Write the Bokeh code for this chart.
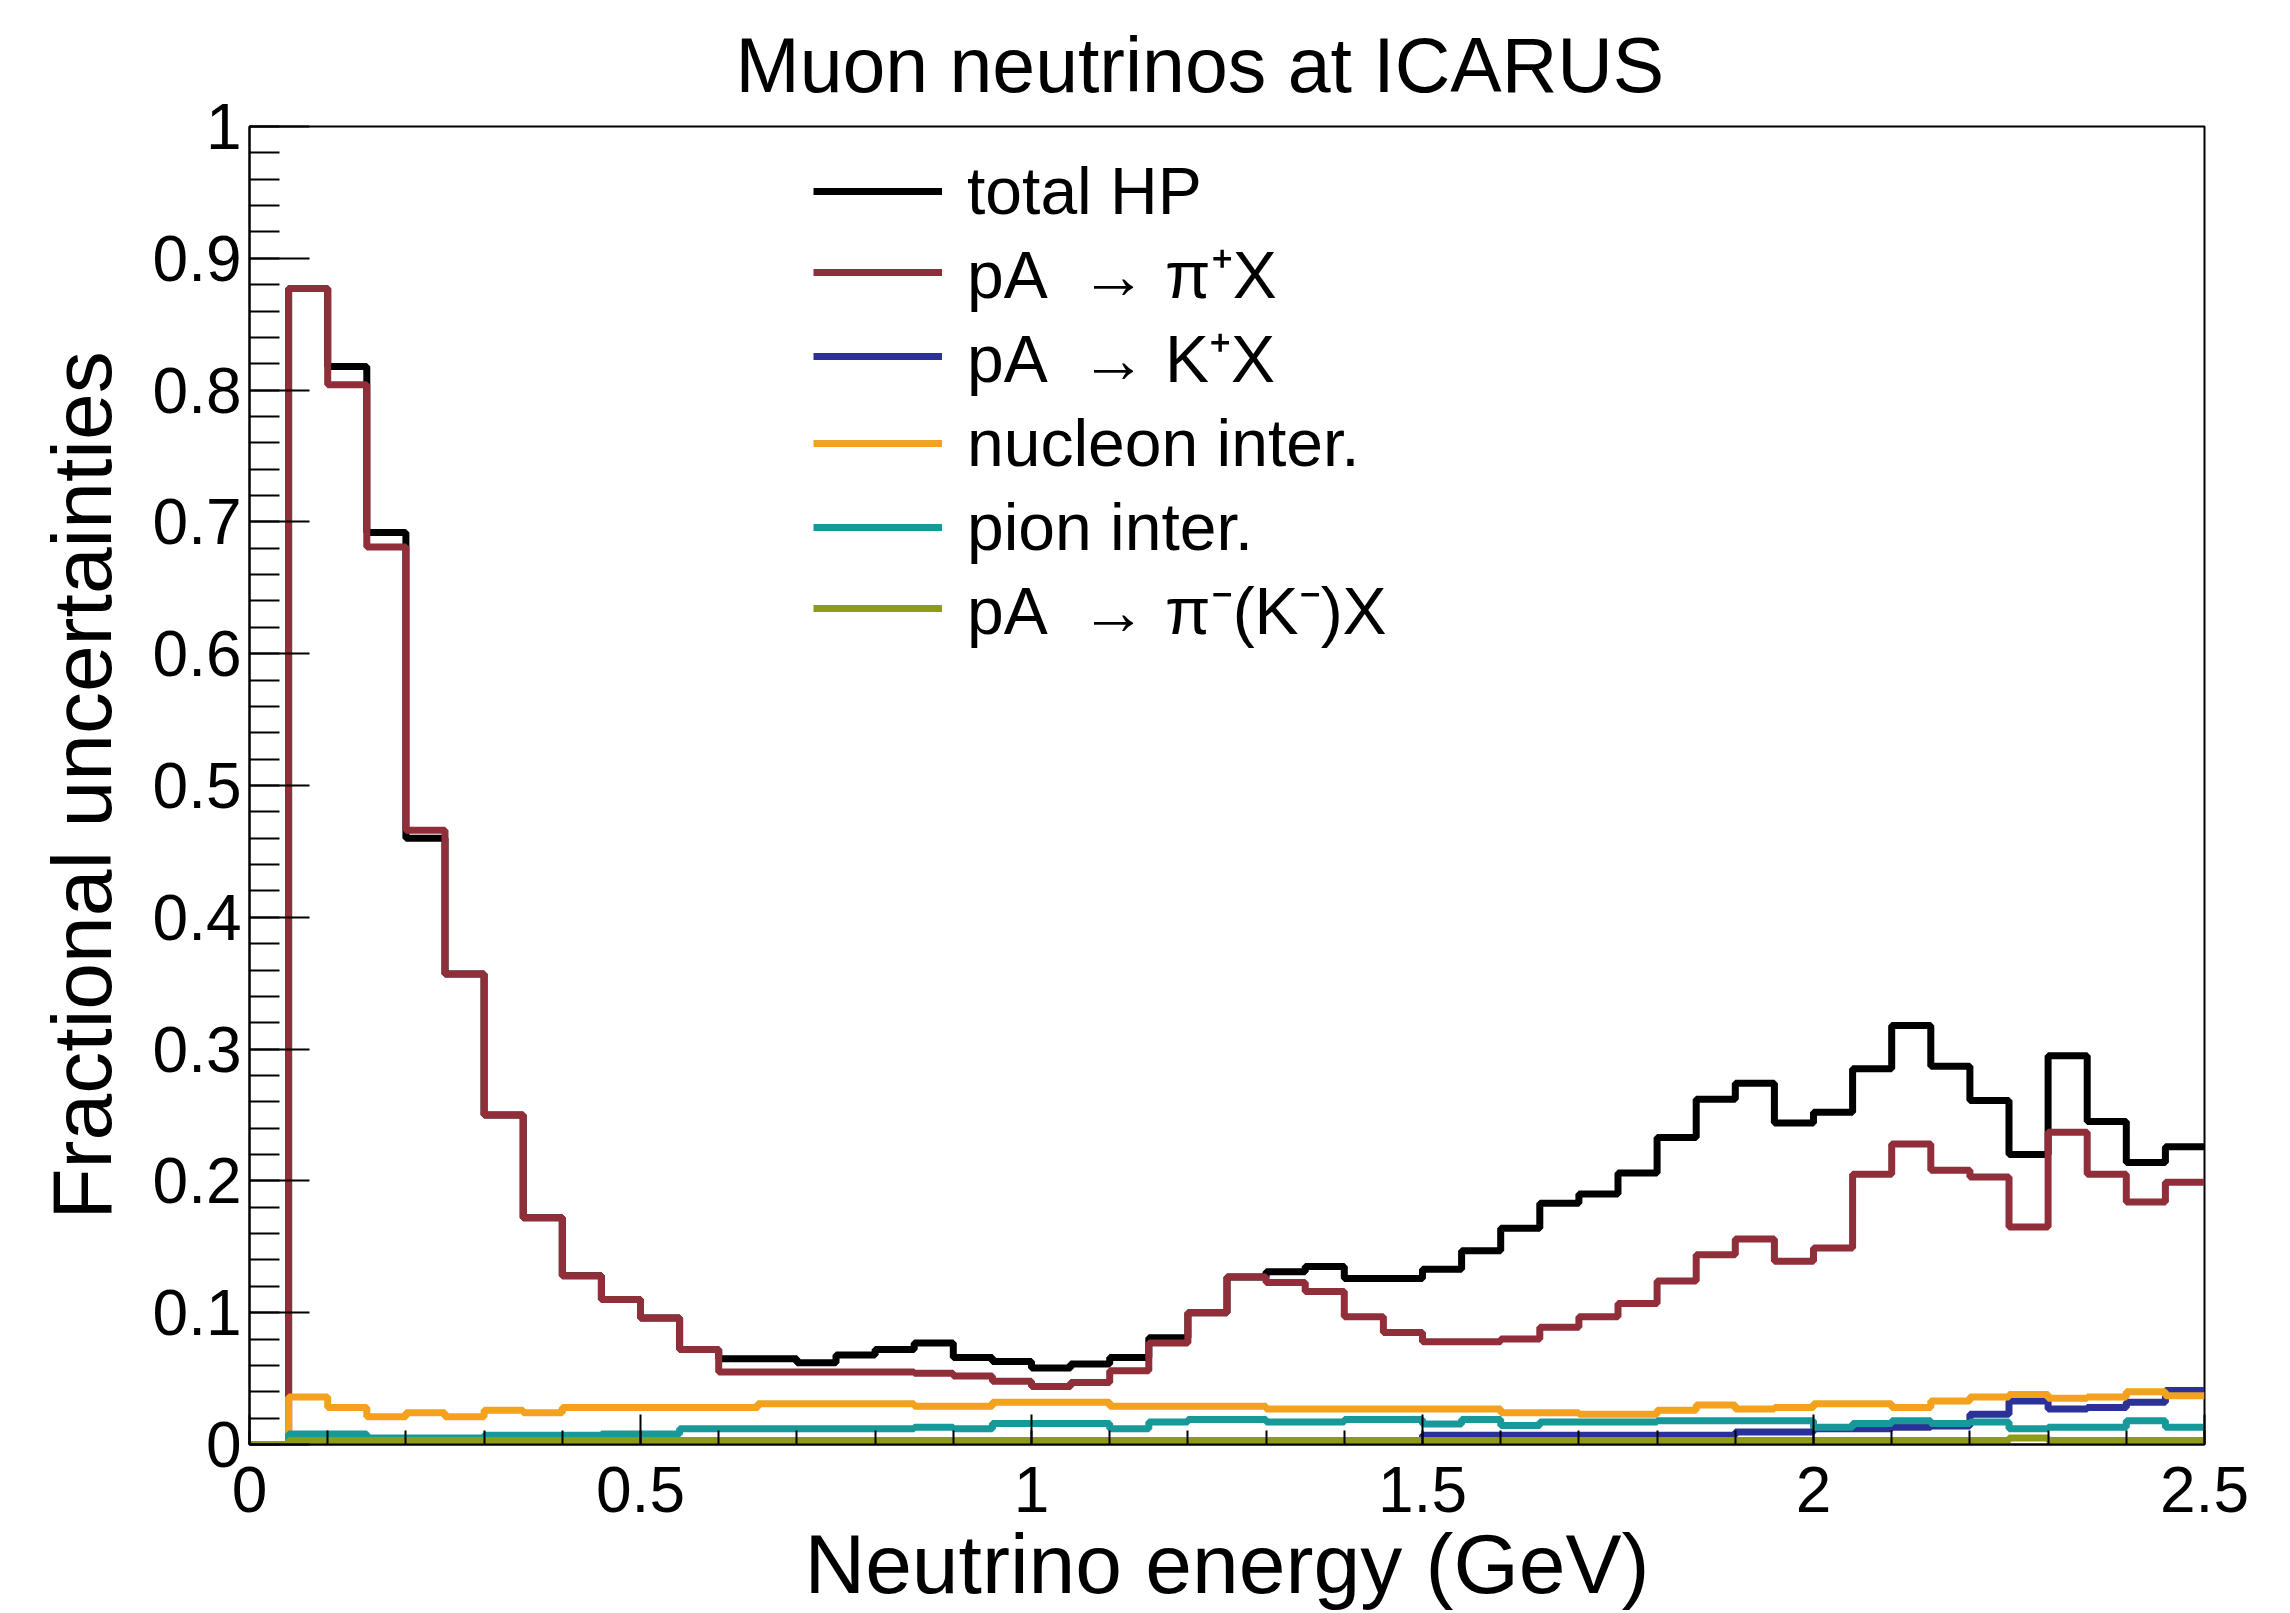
import numpy as np
from bokeh.plotting import figure
from bokeh.models import FixedTicker, Legend, LegendItem, CustomJSTickFormatter
from bokeh.embed import file_html
from bokeh.resources import INLINE

# ---- data ----
bin_edges = [0.0, 0.05, 0.1, 0.15, 0.2, 0.25, 0.3, 0.35, 0.4, 0.45, 0.5,
             0.55, 0.6, 0.65, 0.7, 0.75, 0.8, 0.85, 0.9, 0.95, 1.0,
             1.05, 1.1, 1.15, 1.2, 1.25, 1.3, 1.35, 1.4, 1.45, 1.5,
             1.55, 1.6, 1.65, 1.7, 1.75, 1.8, 1.85, 1.9, 1.95, 2.0,
             2.05, 2.1, 2.15, 2.2, 2.25, 2.3, 2.35, 2.4, 2.45, 2.5]

total_hp = [0.0, 0.877, 0.818, 0.692, 0.460, 0.357, 0.250, 0.172, 0.128, 0.110,
            0.096, 0.072, 0.065, 0.065, 0.062, 0.068, 0.072, 0.077, 0.066, 0.063,
            0.058, 0.061, 0.066, 0.081, 0.100, 0.127, 0.131, 0.135, 0.126, 0.126,
            0.133, 0.147, 0.164, 0.183, 0.190, 0.206, 0.233, 0.262, 0.274, 0.244,
            0.252, 0.285, 0.318, 0.287, 0.261, 0.220, 0.295, 0.245, 0.214, 0.226]

pa_piplus = [0.0, 0.877, 0.804, 0.681, 0.466, 0.357, 0.250, 0.172, 0.128, 0.110,
             0.096, 0.072, 0.055, 0.055, 0.055, 0.055, 0.055, 0.054, 0.052, 0.048,
             0.044, 0.047, 0.056, 0.077, 0.100, 0.127, 0.123, 0.116, 0.097, 0.085,
             0.078, 0.078, 0.080, 0.089, 0.097, 0.107, 0.124, 0.144, 0.156, 0.139,
             0.149, 0.205, 0.228, 0.208, 0.203, 0.165, 0.237, 0.205, 0.184, 0.199]

pa_kplus = [0.0, 0.002, 0.0, 0.002, 0.002, 0.002, 0.002, 0.002, 0.002, 0.002,
            0.002, 0.002, 0.002, 0.002, 0.002, 0.002, 0.002, 0.002, 0.002, 0.002,
            0.002, 0.002, 0.002, 0.002, 0.002, 0.002, 0.002, 0.002, 0.002, 0.002,
            0.007, 0.007, 0.007, 0.007, 0.007, 0.007, 0.007, 0.007, 0.0095, 0.0095,
            0.012, 0.012, 0.013, 0.014, 0.023, 0.033, 0.027, 0.028, 0.032, 0.041]

nucleon_inter = [0.0, 0.036, 0.028, 0.021, 0.024, 0.021, 0.026, 0.024, 0.028, 0.028,
                 0.028, 0.028, 0.028, 0.031, 0.031, 0.031, 0.031, 0.029, 0.029, 0.032,
                 0.032, 0.032, 0.029, 0.029, 0.029, 0.029, 0.027, 0.027, 0.027, 0.027,
                 0.027, 0.027, 0.024, 0.024, 0.023, 0.023, 0.026, 0.030, 0.027, 0.028,
                 0.031, 0.031, 0.028, 0.033, 0.036, 0.038, 0.035, 0.036, 0.040, 0.037]

pion_inter = [0.0, 0.008, 0.008, 0.005, 0.005, 0.005, 0.007, 0.007, 0.007, 0.008,
              0.008, 0.012, 0.012, 0.012, 0.012, 0.012, 0.012, 0.013, 0.012, 0.016,
              0.016, 0.016, 0.012, 0.017, 0.019, 0.019, 0.017, 0.017, 0.019, 0.019,
              0.0155, 0.019, 0.0145, 0.017, 0.017, 0.017, 0.018, 0.018, 0.018, 0.018,
              0.013, 0.016, 0.018, 0.016, 0.017, 0.012, 0.013, 0.013, 0.018, 0.013]

pa_piminus = [0.0, 0.003, 0.003, 0.003, 0.003, 0.003, 0.003, 0.003, 0.003, 0.003,
              0.003, 0.003, 0.003, 0.003, 0.003, 0.003, 0.003, 0.003, 0.003, 0.003,
              0.003, 0.003, 0.003, 0.003, 0.003, 0.003, 0.003, 0.003, 0.003, 0.003,
              0.003, 0.003, 0.003, 0.003, 0.003, 0.003, 0.003, 0.003, 0.003, 0.003,
              0.003, 0.003, 0.003, 0.003, 0.003, 0.005, 0.003, 0.003, 0.003, 0.003]

series_labels = ["total HP", "pA  \u2192 \u03c0\u207aX", "pA  \u2192 K\u207aX",
                 "nucleon inter.", "pion inter.", "pA  \u2192 \u03c0\u207b(K\u207b)X"]
series_colors = ["#000000", "#902f3a", "#2b3196", "#f4a11d", "#17999a", "#8e9b14"]

y_major = [0.0, 0.1, 0.2, 0.3, 0.4, 0.5, 0.6, 0.7, 0.8, 0.9, 1.0]
x_major = [0.0, 0.5, 1.0, 1.5, 2.0, 2.5]

title_text = "Muon neutrinos at ICARUS"

FONT = "Liberation Sans"

p = figure(width=2290, height=1613, output_backend="svg", toolbar_location=None,
           x_range=(0, 2.5), y_range=(0, 1),
           min_border_left=249, min_border_right=86,
           min_border_top=125, min_border_bottom=159,
           title=title_text)

p.background_fill_color = "white"
p.border_fill_color = "white"
p.outline_line_color = "black"
p.outline_line_width = 2
p.xgrid.visible = False
p.ygrid.visible = False

p.title.text_font = FONT
p.title.text_font_size = "77px"
p.title.text_font_style = "normal"
p.title.text_color = "black"
p.title.align = "left"
p.title.offset = 486
p.title.standoff = 38

all_series = [total_hp, pa_piplus, pa_kplus, nucleon_inter, pion_inter, pa_piminus]
renderers = []
for vals, col in zip(all_series, series_colors):
    yy = list(vals) + [vals[-1]]
    r = p.step(x=bin_edges, y=yy, mode="after", line_color=col, line_width=7)
    renderers.append(r)

fmt = CustomJSTickFormatter(code="return Number(tick.toFixed(2)).toString();")

# y axis
y_minor = [round(0.02 * i, 2) for i in range(51)]
p.yaxis.ticker = FixedTicker(ticks=y_major, minor_ticks=y_minor)
p.yaxis.formatter = fmt
p.yaxis.axis_label = "Fractional uncertainties"
p.yaxis.major_tick_in = 60
p.yaxis.major_tick_out = 0
p.yaxis.minor_tick_in = 30
p.yaxis.minor_tick_out = 0

# x axis
x_minor = [round(0.1 * i, 2) for i in range(26)]
p.xaxis.ticker = FixedTicker(ticks=x_major, minor_ticks=x_minor)
p.xaxis.formatter = fmt
p.xaxis.axis_label = "Neutrino energy (GeV)"
p.xaxis.major_tick_in = 30
p.xaxis.major_tick_out = 0
p.xaxis.minor_tick_in = 14
p.xaxis.minor_tick_out = 0

for ax in (p.xaxis[0], p.yaxis[0]):
    ax.axis_line_width = 2
    ax.major_tick_line_width = 2
    ax.minor_tick_line_width = 2
    ax.major_tick_line_color = "black"
    ax.minor_tick_line_color = "black"
    ax.major_label_text_font = FONT
    ax.major_label_text_font_size = "64px"
    ax.major_label_text_color = "black"
    ax.axis_label_text_font = FONT
    ax.axis_label_text_font_size = "84px"
    ax.axis_label_text_font_style = "normal"
    ax.axis_label_text_color = "black"

p.xaxis.major_label_standoff = 22
p.xaxis.axis_label_standoff = 2
p.yaxis.major_label_standoff = 8
p.yaxis.axis_label_standoff = 21

# one legend block per row so the row pitch matches the reference
row_centers = [193, 277, 361, 445, 529, 613]   # canvas px from top
for lab, r, c in zip(series_labels, renderers, row_centers):
    lg = Legend(items=[LegendItem(label=lab, renderers=[r])],
                location=(564, 1454 - c - 42 - 8))
    lg.background_fill_alpha = 0
    lg.border_line_alpha = 0
    lg.padding = 0
    lg.margin = 0
    lg.spacing = 0
    lg.glyph_width = 129
    lg.glyph_height = 84
    lg.label_height = 84
    lg.label_standoff = 25
    lg.label_text_font = FONT
    lg.label_text_font_size = "66px"
    lg.label_text_color = "black"
    p.add_layout(lg)

open("out.html", "w").write(file_html(p, INLINE))
